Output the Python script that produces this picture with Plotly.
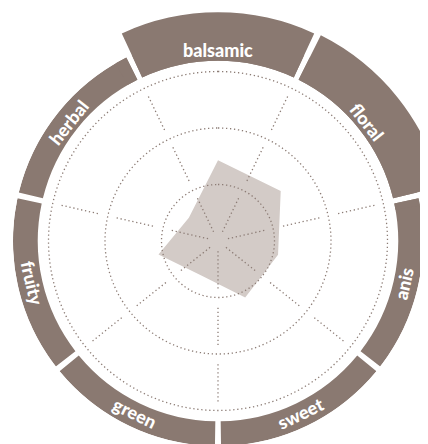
import numpy as np
import plotly.graph_objects as go

# ---- data ----
categories = ["balsamic", "floral", "anis", "sweet", "green", "fruity", "herbal"]
values = [1.43, 1.42, 1.09, 1.11, 0.68, 1.08, 0.66]
ring_outer = [4.05, 4.07, 3.63, 3.63, 3.63, 3.63, 3.63]
grid_levels = [1, 2, 3]

# ---- styling / geometry ----
W, H = 446, 444
OFF = 8                    # page body margin
CX, CY = 218 - OFF, 241 - OFF   # polar centre in figure px
RPX = 205                  # main polar domain radius in px
RPX2 = 232                 # radius of the overlay sector for the wide bars
UNIT = 56.5                # px per radial unit
RING_BASE = 3.19
LABEL_R = 3.38
RING_COLOR = "#8a7971"
FILL_COLOR = "#d3cbc7"
DOT_COLOR = "#8c7c75"
DOT = "1.3px,2.7px"

n = len(categories)
step = 360 / n
theta = [i * step for i in range(n)]

fig = go.Figure()

# polygon
fig.add_trace(go.Scatterpolar(
    r=values + values[:1], theta=theta + theta[:1],
    mode="lines", fill="toself", fillcolor=FILL_COLOR,
    line=dict(width=0, color=FILL_COLOR), hoverinfo="skip"))

# dotted circles
circ = list(np.linspace(0, 360, 721))
for lv in grid_levels:
    fig.add_trace(go.Scatterpolar(
        r=[lv] * len(circ), theta=circ, mode="lines",
        line=dict(color=DOT_COLOR, width=1.3, dash=DOT), hoverinfo="skip"))

# dotted radial segments at sector boundaries
seg_r, seg_t = [], []
for i in range(n):
    b = theta[i] + step / 2
    for lv in grid_levels:
        seg_r += [lv - 1 + 0.18, lv - 0.15, None]
        seg_t += [b, b, None]
fig.add_trace(go.Scatterpolar(
    r=seg_r, theta=seg_t, mode="lines", connectgaps=False,
    line=dict(color=DOT_COLOR, width=1.3, dash=DOT), hoverinfo="skip"))

# outer ring (main subplot; clipped at its edge)
fig.add_trace(go.Barpolar(
    r=[o - RING_BASE for o in ring_outer], base=[RING_BASE] * n, theta=theta,
    width=[step - 1.7] * n, marker=dict(color=RING_COLOR, line=dict(width=0)),
    hoverinfo="skip"))

# wider bars drawn on an overlay sector subplot so they are not clipped
wide = [i for i, o in enumerate(ring_outer) if o * UNIT > RPX]
fig.add_trace(go.Barpolar(
    r=[ring_outer[i] - RING_BASE for i in wide], base=[RING_BASE] * len(wide),
    theta=[theta[i] for i in wide], width=[step - 1.7] * len(wide),
    marker=dict(color=RING_COLOR, line=dict(width=0)), hoverinfo="skip",
    subplot="polar2"))

# main polar domain
x0 = (CX - RPX) / W
x1 = (CX + RPX) / W
y0 = 1 - (CY + RPX) / H
y1 = 1 - (CY - RPX) / H

# overlay sector (math angles 10..120 deg): bbox x in [-0.5R, cos(10)R], y in [0, R]
SEC = [10, 120]
bx0 = min(0, np.cos(np.deg2rad(SEC[1])))
bx1 = max(np.cos(np.deg2rad(SEC[0])), 0)
sx0 = (CX + bx0 * RPX2) / W
sx1 = (CX + bx1 * RPX2) / W
sy0 = 1 - CY / H
sy1 = 1 - (CY - RPX2) / H

annotations = []
for cat, t in zip(categories, theta):
    rad = np.deg2rad(t)
    rp = LABEL_R * UNIT
    px = CX + rp * np.sin(rad)
    py = CY - rp * np.cos(rad)
    upper = np.cos(rad) > 0
    ang = t if upper else t - 180
    if ang > 180:
        ang -= 360
    annotations.append(dict(
        x=px / W, y=1 - py / H, xref="paper", yref="paper", text=cat,
        showarrow=False, xanchor="center", yanchor="middle", textangle=ang,
        font=dict(family="Lato", size=18, color="white", weight=900)))

hidden_ang = dict(direction="clockwise", rotation=90, visible=False,
                  showgrid=False, thetaunit="degrees")
fig.update_layout(
    width=W, height=H, margin=dict(l=0, r=0, t=0, b=0),
    paper_bgcolor="white", plot_bgcolor="white", showlegend=False,
    polar=dict(
        domain=dict(x=[x0, x1], y=[y0, y1]),
        bgcolor="rgba(0,0,0,0)",
        radialaxis=dict(range=[0, RPX / UNIT], visible=False, showgrid=False),
        angularaxis=hidden_ang,
    ),
    polar2=dict(
        domain=dict(x=[sx0, sx1], y=[sy0, sy1]),
        sector=SEC,
        bgcolor="rgba(0,0,0,0)",
        radialaxis=dict(range=[0, RPX2 / UNIT], visible=False, showgrid=False),
        angularaxis=hidden_ang,
    ),
    annotations=annotations,
)

fig.write_html("out.html")
